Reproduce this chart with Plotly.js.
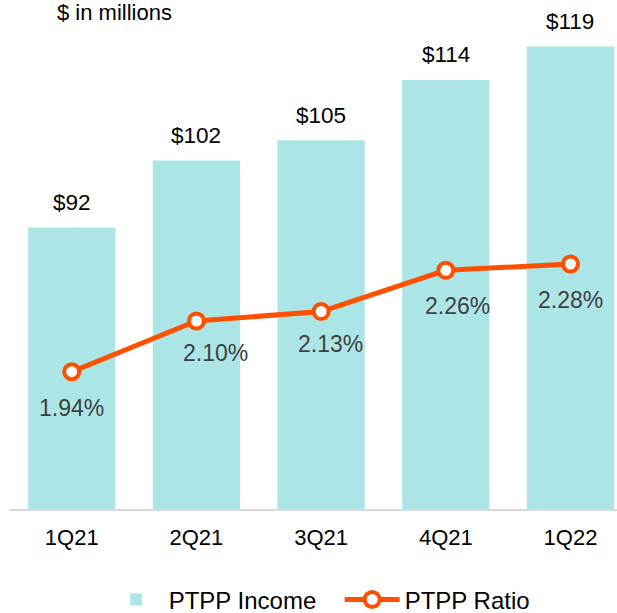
<!DOCTYPE html>
<html>
<head>
<meta charset="utf-8">
<script src="https://cdn.plot.ly/plotly-3.0.1.min.js"></script>
<style>
  html, body { margin: 0; padding: 0; background: #ffffff; }
  #chart { width: 617px; height: 613px; }
</style>
</head>
<body>
<div id="chart"></div>
<script>
// ---- data ----
const quarters = ["1Q21", "2Q21", "3Q21", "4Q21", "1Q22"];
const ptppIncome = [92, 102, 105, 114, 119];          // $ in millions
const ptppRatio = [1.94, 2.10, 2.13, 2.26, 2.28];     // percent
const incomeLabels = ["$92", "$102", "$105", "$114", "$119"];
const ratioLabels = ["1.94%", "2.10%", "2.13%", "2.26%", "2.28%"];

// ---- styling / layout constants ----
const FONT = "Liberation Sans, Arial, sans-serif";
const BAR_COLOR = "#ace5e6";
const LINE_COLOR = "#ff5000";
const ratioLabelShift = [[0, -36], [19, -32], [9, -32], [12, -36], [0, -36]];

const barTrace = {
  type: "bar",
  name: "PTPP Income",
  x: quarters,
  y: ptppIncome,
  marker: { color: BAR_COLOR },
  hoverinfo: "x+y"
};

const lineTrace = {
  type: "scatter",
  mode: "lines+markers",
  name: "PTPP Ratio",
  x: quarters,
  y: ptppRatio,
  yaxis: "y2",
  line: { color: LINE_COLOR, width: 5 },
  marker: { size: 15, color: "#ffffff", line: { color: LINE_COLOR, width: 4 } },
  cliponaxis: false
};

const annotations = [];
quarters.forEach((q, i) => {
  annotations.push({
    x: q, y: ptppIncome[i], xref: "x", yref: "y",
    text: incomeLabels[i], showarrow: false,
    yanchor: "middle", yshift: 25,
    font: { family: FONT, size: 22.5, color: "#000000" }
  });
  annotations.push({
    x: q, y: ptppRatio[i], xref: "x", yref: "y2",
    text: ratioLabels[i], showarrow: false,
    yanchor: "middle",
    xshift: ratioLabelShift[i][0], yshift: ratioLabelShift[i][1],
    font: { family: FONT, size: 23, color: "#404040" }
  });
});
annotations.push({
  xref: "paper", yref: "paper", x: 0.076, y: 1,
  xanchor: "left", yanchor: "top", yshift: 2,
  text: "$ in millions", showarrow: false,
  font: { family: FONT, size: 22, color: "#000000" }
});

const layout = {
  width: 617,
  height: 613,
  margin: { l: 9, r: 0, t: 0, b: 104 },
  paper_bgcolor: "#ffffff",
  plot_bgcolor: "#ffffff",
  font: { family: FONT, size: 22, color: "#000000" },
  bargap: 0.3,
  showlegend: true,
  xaxis: {
    type: "category",
    range: [-0.503, 4.373],
    showline: true, linecolor: "#d9d9d9", linewidth: 2,
    showgrid: false, zeroline: false,
    ticks: "", ticklabelstandoff: 8,
    automargin: false,
    tickfont: { family: FONT, size: 22, color: "#000000" },
    fixedrange: true
  },
  yaxis: {
    range: [50, 125.93],
    visible: false, showgrid: false, zeroline: false, fixedrange: true
  },
  yaxis2: {
    range: [1.5066, 3.1133],
    overlaying: "y", side: "right",
    visible: false, showgrid: false, zeroline: false, fixedrange: true
  },
  legend: {
    orientation: "h",
    xref: "container", yref: "container",
    x: 0.168, xanchor: "left",
    y: 0.0215, yanchor: "middle",
    itemwidth: 55,
    entrywidth: 166,
    font: { family: FONT, size: 24, color: "#000000" },
    traceorder: "normal"
  },
  annotations: annotations
};

Plotly.newPlot("chart", [barTrace, lineTrace], layout, { displayModeBar: false, staticPlot: true });
</script>
</body>
</html>
